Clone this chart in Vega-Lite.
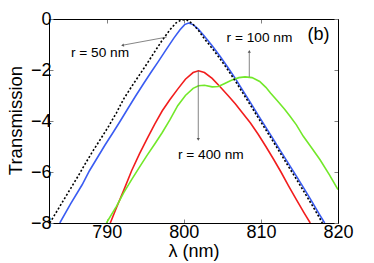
{
  "$schema": "https://vega.github.io/schema/vega-lite/v6.json",
  "width": 289,
  "height": 204,
  "autosize": {"type": "none"},
  "padding": {"left": 49, "top": 19, "right": 36, "bottom": 40},
  "background": "white",
  "config": {
    "font": "Liberation Sans",
    "view": {"stroke": "black", "strokeWidth": 1},
    "axis": {
      "domain": true, "domainColor": "black", "domainWidth": 1, "grid": false,
      "tickColor": "#808080", "tickSize": -4, "tickWidth": 1,
      "labelFont": "Liberation Sans", "labelFontSize": 18, "labelColor": "black", "labelFlush": false,
      "titleFont": "Liberation Sans", "titleFontSize": 18, "titleFontWeight": "normal", "titleColor": "black"
    }
  },
  "datasets": {
    "curves": [
      {"series": "r50", "lambda": 783.9, "T": -8},
      {"series": "r50", "lambda": 785.3, "T": -7.25},
      {"series": "r50", "lambda": 786.8, "T": -6.5},
      {"series": "r50", "lambda": 787.75, "T": -5.95},
      {"series": "r50", "lambda": 788.75, "T": -5.45},
      {"series": "r50", "lambda": 789.75, "T": -4.95},
      {"series": "r50", "lambda": 790.75, "T": -4.48},
      {"series": "r50", "lambda": 791.75, "T": -4.0},
      {"series": "r50", "lambda": 792.72, "T": -3.52},
      {"series": "r50", "lambda": 793.72, "T": -3.03},
      {"series": "r50", "lambda": 794.72, "T": -2.56},
      {"series": "r50", "lambda": 795.72, "T": -2.1},
      {"series": "r50", "lambda": 796.72, "T": -1.65},
      {"series": "r50", "lambda": 797.7, "T": -1.2},
      {"series": "r50", "lambda": 798.7, "T": -0.75},
      {"series": "r50", "lambda": 799.5, "T": -0.42},
      {"series": "r50", "lambda": 800.1, "T": -0.22},
      {"series": "r50", "lambda": 800.6, "T": -0.16},
      {"series": "r50", "lambda": 801.2, "T": -0.22},
      {"series": "r50", "lambda": 801.9, "T": -0.4},
      {"series": "r50", "lambda": 802.67, "T": -0.68},
      {"series": "r50", "lambda": 803.67, "T": -1.05},
      {"series": "r50", "lambda": 804.67, "T": -1.45},
      {"series": "r50", "lambda": 805.67, "T": -1.88},
      {"series": "r50", "lambda": 806.67, "T": -2.33},
      {"series": "r50", "lambda": 807.64, "T": -2.8},
      {"series": "r50", "lambda": 808.64, "T": -3.28},
      {"series": "r50", "lambda": 809.64, "T": -3.77},
      {"series": "r50", "lambda": 810.64, "T": -4.25},
      {"series": "r50", "lambda": 811.64, "T": -4.73},
      {"series": "r50", "lambda": 812.6, "T": -5.2},
      {"series": "r50", "lambda": 813.6, "T": -5.68},
      {"series": "r50", "lambda": 814.6, "T": -6.16},
      {"series": "r50", "lambda": 815.6, "T": -6.65},
      {"series": "r50", "lambda": 816.6, "T": -7.15},
      {"series": "r50", "lambda": 817.57, "T": -7.65},
      {"series": "r50", "lambda": 818.27, "T": -8.0},

      {"series": "reference", "lambda": 782.6, "T": -8},
      {"series": "reference", "lambda": 783.3, "T": -7.65},
      {"series": "reference", "lambda": 784.3, "T": -7.15},
      {"series": "reference", "lambda": 785.3, "T": -6.65},
      {"series": "reference", "lambda": 786.3, "T": -6.15},
      {"series": "reference", "lambda": 787.25, "T": -5.65},
      {"series": "reference", "lambda": 788.25, "T": -5.15},
      {"series": "reference", "lambda": 789.25, "T": -4.68},
      {"series": "reference", "lambda": 790.25, "T": -4.2},
      {"series": "reference", "lambda": 791.25, "T": -3.68},
      {"series": "reference", "lambda": 792.22, "T": -3.12},
      {"series": "reference", "lambda": 793.22, "T": -2.65},
      {"series": "reference", "lambda": 794.22, "T": -2.2},
      {"series": "reference", "lambda": 795.22, "T": -1.75},
      {"series": "reference", "lambda": 796.22, "T": -1.28},
      {"series": "reference", "lambda": 797.2, "T": -0.83},
      {"series": "reference", "lambda": 798.2, "T": -0.42},
      {"series": "reference", "lambda": 799.0, "T": -0.15},
      {"series": "reference", "lambda": 799.7, "T": -0.03},
      {"series": "reference", "lambda": 800.4, "T": -0.04},
      {"series": "reference", "lambda": 801.1, "T": -0.18},
      {"series": "reference", "lambda": 801.9, "T": -0.45},
      {"series": "reference", "lambda": 802.67, "T": -0.78},
      {"series": "reference", "lambda": 803.67, "T": -1.15},
      {"series": "reference", "lambda": 804.67, "T": -1.55},
      {"series": "reference", "lambda": 805.67, "T": -1.98},
      {"series": "reference", "lambda": 806.67, "T": -2.43},
      {"series": "reference", "lambda": 807.64, "T": -2.9},
      {"series": "reference", "lambda": 808.64, "T": -3.38},
      {"series": "reference", "lambda": 809.64, "T": -3.87},
      {"series": "reference", "lambda": 810.64, "T": -4.35},
      {"series": "reference", "lambda": 811.64, "T": -4.83},
      {"series": "reference", "lambda": 812.6, "T": -5.3},
      {"series": "reference", "lambda": 813.6, "T": -5.8},
      {"series": "reference", "lambda": 814.6, "T": -6.28},
      {"series": "reference", "lambda": 815.6, "T": -6.78},
      {"series": "reference", "lambda": 816.6, "T": -7.28},
      {"series": "reference", "lambda": 817.57, "T": -7.78},
      {"series": "reference", "lambda": 817.97, "T": -8.0},

      {"series": "r400", "lambda": 790.45, "T": -8},
      {"series": "r400", "lambda": 791.25, "T": -7.4},
      {"series": "r400", "lambda": 792.22, "T": -6.7},
      {"series": "r400", "lambda": 793.22, "T": -5.95},
      {"series": "r400", "lambda": 794.22, "T": -5.3},
      {"series": "r400", "lambda": 795.22, "T": -4.7},
      {"series": "r400", "lambda": 796.22, "T": -4.12},
      {"series": "r400", "lambda": 797.2, "T": -3.6},
      {"series": "r400", "lambda": 798.2, "T": -3.16},
      {"series": "r400", "lambda": 799.2, "T": -2.75},
      {"series": "r400", "lambda": 800.2, "T": -2.36},
      {"series": "r400", "lambda": 801.2, "T": -2.1},
      {"series": "r400", "lambda": 801.9, "T": -2.03},
      {"series": "r400", "lambda": 802.67, "T": -2.1},
      {"series": "r400", "lambda": 803.67, "T": -2.33},
      {"series": "r400", "lambda": 804.67, "T": -2.65},
      {"series": "r400", "lambda": 805.67, "T": -2.98},
      {"series": "r400", "lambda": 806.67, "T": -3.32},
      {"series": "r400", "lambda": 807.64, "T": -3.7},
      {"series": "r400", "lambda": 808.64, "T": -4.08},
      {"series": "r400", "lambda": 809.64, "T": -4.52},
      {"series": "r400", "lambda": 810.64, "T": -5.0},
      {"series": "r400", "lambda": 811.64, "T": -5.5},
      {"series": "r400", "lambda": 812.6, "T": -6.0},
      {"series": "r400", "lambda": 813.6, "T": -6.55},
      {"series": "r400", "lambda": 814.6, "T": -7.08},
      {"series": "r400", "lambda": 815.6, "T": -7.6},
      {"series": "r400", "lambda": 816.4, "T": -8},

      {"series": "r100", "lambda": 789.95, "T": -8},
      {"series": "r100", "lambda": 791.25, "T": -7.35},
      {"series": "r100", "lambda": 792.22, "T": -6.8},
      {"series": "r100", "lambda": 793.22, "T": -6.3},
      {"series": "r100", "lambda": 794.22, "T": -5.82},
      {"series": "r100", "lambda": 795.22, "T": -5.35},
      {"series": "r100", "lambda": 796.22, "T": -4.9},
      {"series": "r100", "lambda": 797.2, "T": -4.45},
      {"series": "r100", "lambda": 798.2, "T": -3.95},
      {"series": "r100", "lambda": 799.2, "T": -3.4},
      {"series": "r100", "lambda": 800.2, "T": -3.0},
      {"series": "r100", "lambda": 801.2, "T": -2.72},
      {"series": "r100", "lambda": 801.9, "T": -2.62},
      {"series": "r100", "lambda": 802.67, "T": -2.6},
      {"series": "r100", "lambda": 803.67, "T": -2.66},
      {"series": "r100", "lambda": 804.47, "T": -2.65},
      {"series": "r100", "lambda": 805.17, "T": -2.55},
      {"series": "r100", "lambda": 806.17, "T": -2.4},
      {"series": "r100", "lambda": 807.14, "T": -2.3},
      {"series": "r100", "lambda": 807.94, "T": -2.27},
      {"series": "r100", "lambda": 808.84, "T": -2.3},
      {"series": "r100", "lambda": 809.84, "T": -2.45},
      {"series": "r100", "lambda": 810.64, "T": -2.68},
      {"series": "r100", "lambda": 811.24, "T": -2.9},
      {"series": "r100", "lambda": 812.1, "T": -3.2},
      {"series": "r100", "lambda": 813.1, "T": -3.55},
      {"series": "r100", "lambda": 813.8, "T": -3.82},
      {"series": "r100", "lambda": 814.6, "T": -4.15},
      {"series": "r100", "lambda": 815.5, "T": -4.6},
      {"series": "r100", "lambda": 816.57, "T": -5.05},
      {"series": "r100", "lambda": 817.67, "T": -5.52},
      {"series": "r100", "lambda": 818.87, "T": -6.1},
      {"series": "r100", "lambda": 820.0, "T": -6.69}
    ],
    "arrows": [
      {"label": "r = 50 nm", "x1": 797.77, "y1": -0.71, "x2": 792.2, "y2": -1.02},
      {"label": "r = 100 nm", "x1": 808.49, "y1": -2.27, "x2": 808.49, "y2": -1.3},
      {"label": "r = 400 nm", "x1": 801.87, "y1": -2.03, "x2": 801.87, "y2": -4.7}
    ],
    "tips": [
      {"label": "r = 50 nm", "x": 792.1, "y": -1.03},
      {"label": "r = 100 nm", "x": 808.49, "y": -1.27},
      {"label": "r = 400 nm", "x": 801.87, "y": -4.72}
    ],
    "texts": [
      {"label": "r = 50 nm", "x": 789.12, "y": -1.33, "kind": "note"},
      {"label": "r = 100 nm", "x": 809.81, "y": -0.745, "kind": "note"},
      {"label": "r = 400 nm", "x": 803.5, "y": -5.35, "kind": "note"},
      {"label": "(b)", "x": 817.47, "y": -0.62, "kind": "panel"}
    ]
  },
  "layer": [
    {
      "data": {"name": "curves"},
      "transform": [{"filter": "datum.series !== 'reference'"}],
      "mark": {"type": "line", "strokeWidth": 1.6, "clip": true},
      "encoding": {
        "x": {"field": "lambda", "type": "quantitative",
              "scale": {"domain": [782.5, 820], "nice": false, "zero": false},
              "axis": {"orient": "bottom", "values": [790, 800, 810, 820], "format": "d", "title": "λ (nm)", "labelPadding": 4,
                       "titleX": 144.5, "titleY": 33.5, "titleBaseline": "alphabetic", "titleAlign": "center"}},
        "y": {"field": "T", "type": "quantitative",
              "scale": {"domain": [-8, 0], "nice": false, "zero": false},
              "axis": {"orient": "left", "values": [0, -2, -4, -6, -8], "format": "d", "title": "Transmission", "labelPadding": 2,
                       "titleX": -28, "titleY": 101, "titleAngle": -90, "titleBaseline": "alphabetic", "titleAlign": "center", "titleFontSize": 18.5}},
        "color": {"field": "series", "type": "nominal",
                  "scale": {"domain": ["r100", "r400", "r50"], "range": ["#72e82a", "#f21d1d", "#3a5cf2"]},
                  "legend": null},
        "order": {"field": "lambda", "type": "quantitative"}
      }
    },
    {
      "data": {"name": "curves"},
      "transform": [{"filter": "datum.series === 'reference'"}],
      "mark": {"type": "line", "strokeWidth": 1.6, "color": "black", "strokeDash": [2, 2], "clip": true},
      "encoding": {
        "x": {"field": "lambda", "type": "quantitative",
              "axis": {"orient": "top", "values": [790, 800, 810, 820], "labels": false, "title": null}},
        "y": {"field": "T", "type": "quantitative",
              "axis": {"orient": "right", "values": [0, -2, -4, -6, -8], "labels": false, "title": null}}
      }
    },
    {
      "data": {"name": "arrows"},
      "mark": {"type": "rule", "color": "#666666", "strokeWidth": 0.8},
      "encoding": {
        "x": {"field": "x1", "type": "quantitative", "axis": null},
        "y": {"field": "y1", "type": "quantitative", "axis": null},
        "x2": {"field": "x2"},
        "y2": {"field": "y2"}
      }
    },
    {
      "data": {"name": "tips"},
      "transform": [{"filter": "datum.label === 'r = 50 nm'"}],
      "mark": {"type": "point", "shape": "triangle", "filled": true, "color": "#555555", "size": 10, "angle": 259, "opacity": 1},
      "encoding": {
        "x": {"field": "x", "type": "quantitative", "axis": null},
        "y": {"field": "y", "type": "quantitative", "axis": null}
      }
    },
    {
      "data": {"name": "tips"},
      "transform": [{"filter": "datum.label === 'r = 100 nm'"}],
      "mark": {"type": "point", "shape": "triangle-up", "filled": true, "color": "#555555", "size": 10, "opacity": 1},
      "encoding": {
        "x": {"field": "x", "type": "quantitative", "axis": null},
        "y": {"field": "y", "type": "quantitative", "axis": null}
      }
    },
    {
      "data": {"name": "tips"},
      "transform": [{"filter": "datum.label === 'r = 400 nm'"}],
      "mark": {"type": "point", "shape": "triangle-down", "filled": true, "color": "#555555", "size": 10, "opacity": 1},
      "encoding": {
        "x": {"field": "x", "type": "quantitative", "axis": null},
        "y": {"field": "y", "type": "quantitative", "axis": null}
      }
    },
    {
      "data": {"name": "texts"},
      "transform": [{"filter": "datum.kind === 'note'"}],
      "mark": {"type": "text", "font": "Liberation Sans", "fontSize": 13.7, "color": "black", "align": "center", "baseline": "middle"},
      "encoding": {
        "x": {"field": "x", "type": "quantitative", "axis": null},
        "y": {"field": "y", "type": "quantitative", "axis": null},
        "text": {"field": "label"}
      }
    },
    {
      "data": {"name": "texts"},
      "transform": [{"filter": "datum.kind === 'panel'"}],
      "mark": {"type": "text", "font": "Liberation Sans", "fontSize": 18, "color": "black", "align": "center", "baseline": "middle"},
      "encoding": {
        "x": {"field": "x", "type": "quantitative", "axis": null},
        "y": {"field": "y", "type": "quantitative", "axis": null},
        "text": {"field": "label"}
      }
    }
  ],
  "resolve": {"axis": {"x": "independent", "y": "independent"}}
}
